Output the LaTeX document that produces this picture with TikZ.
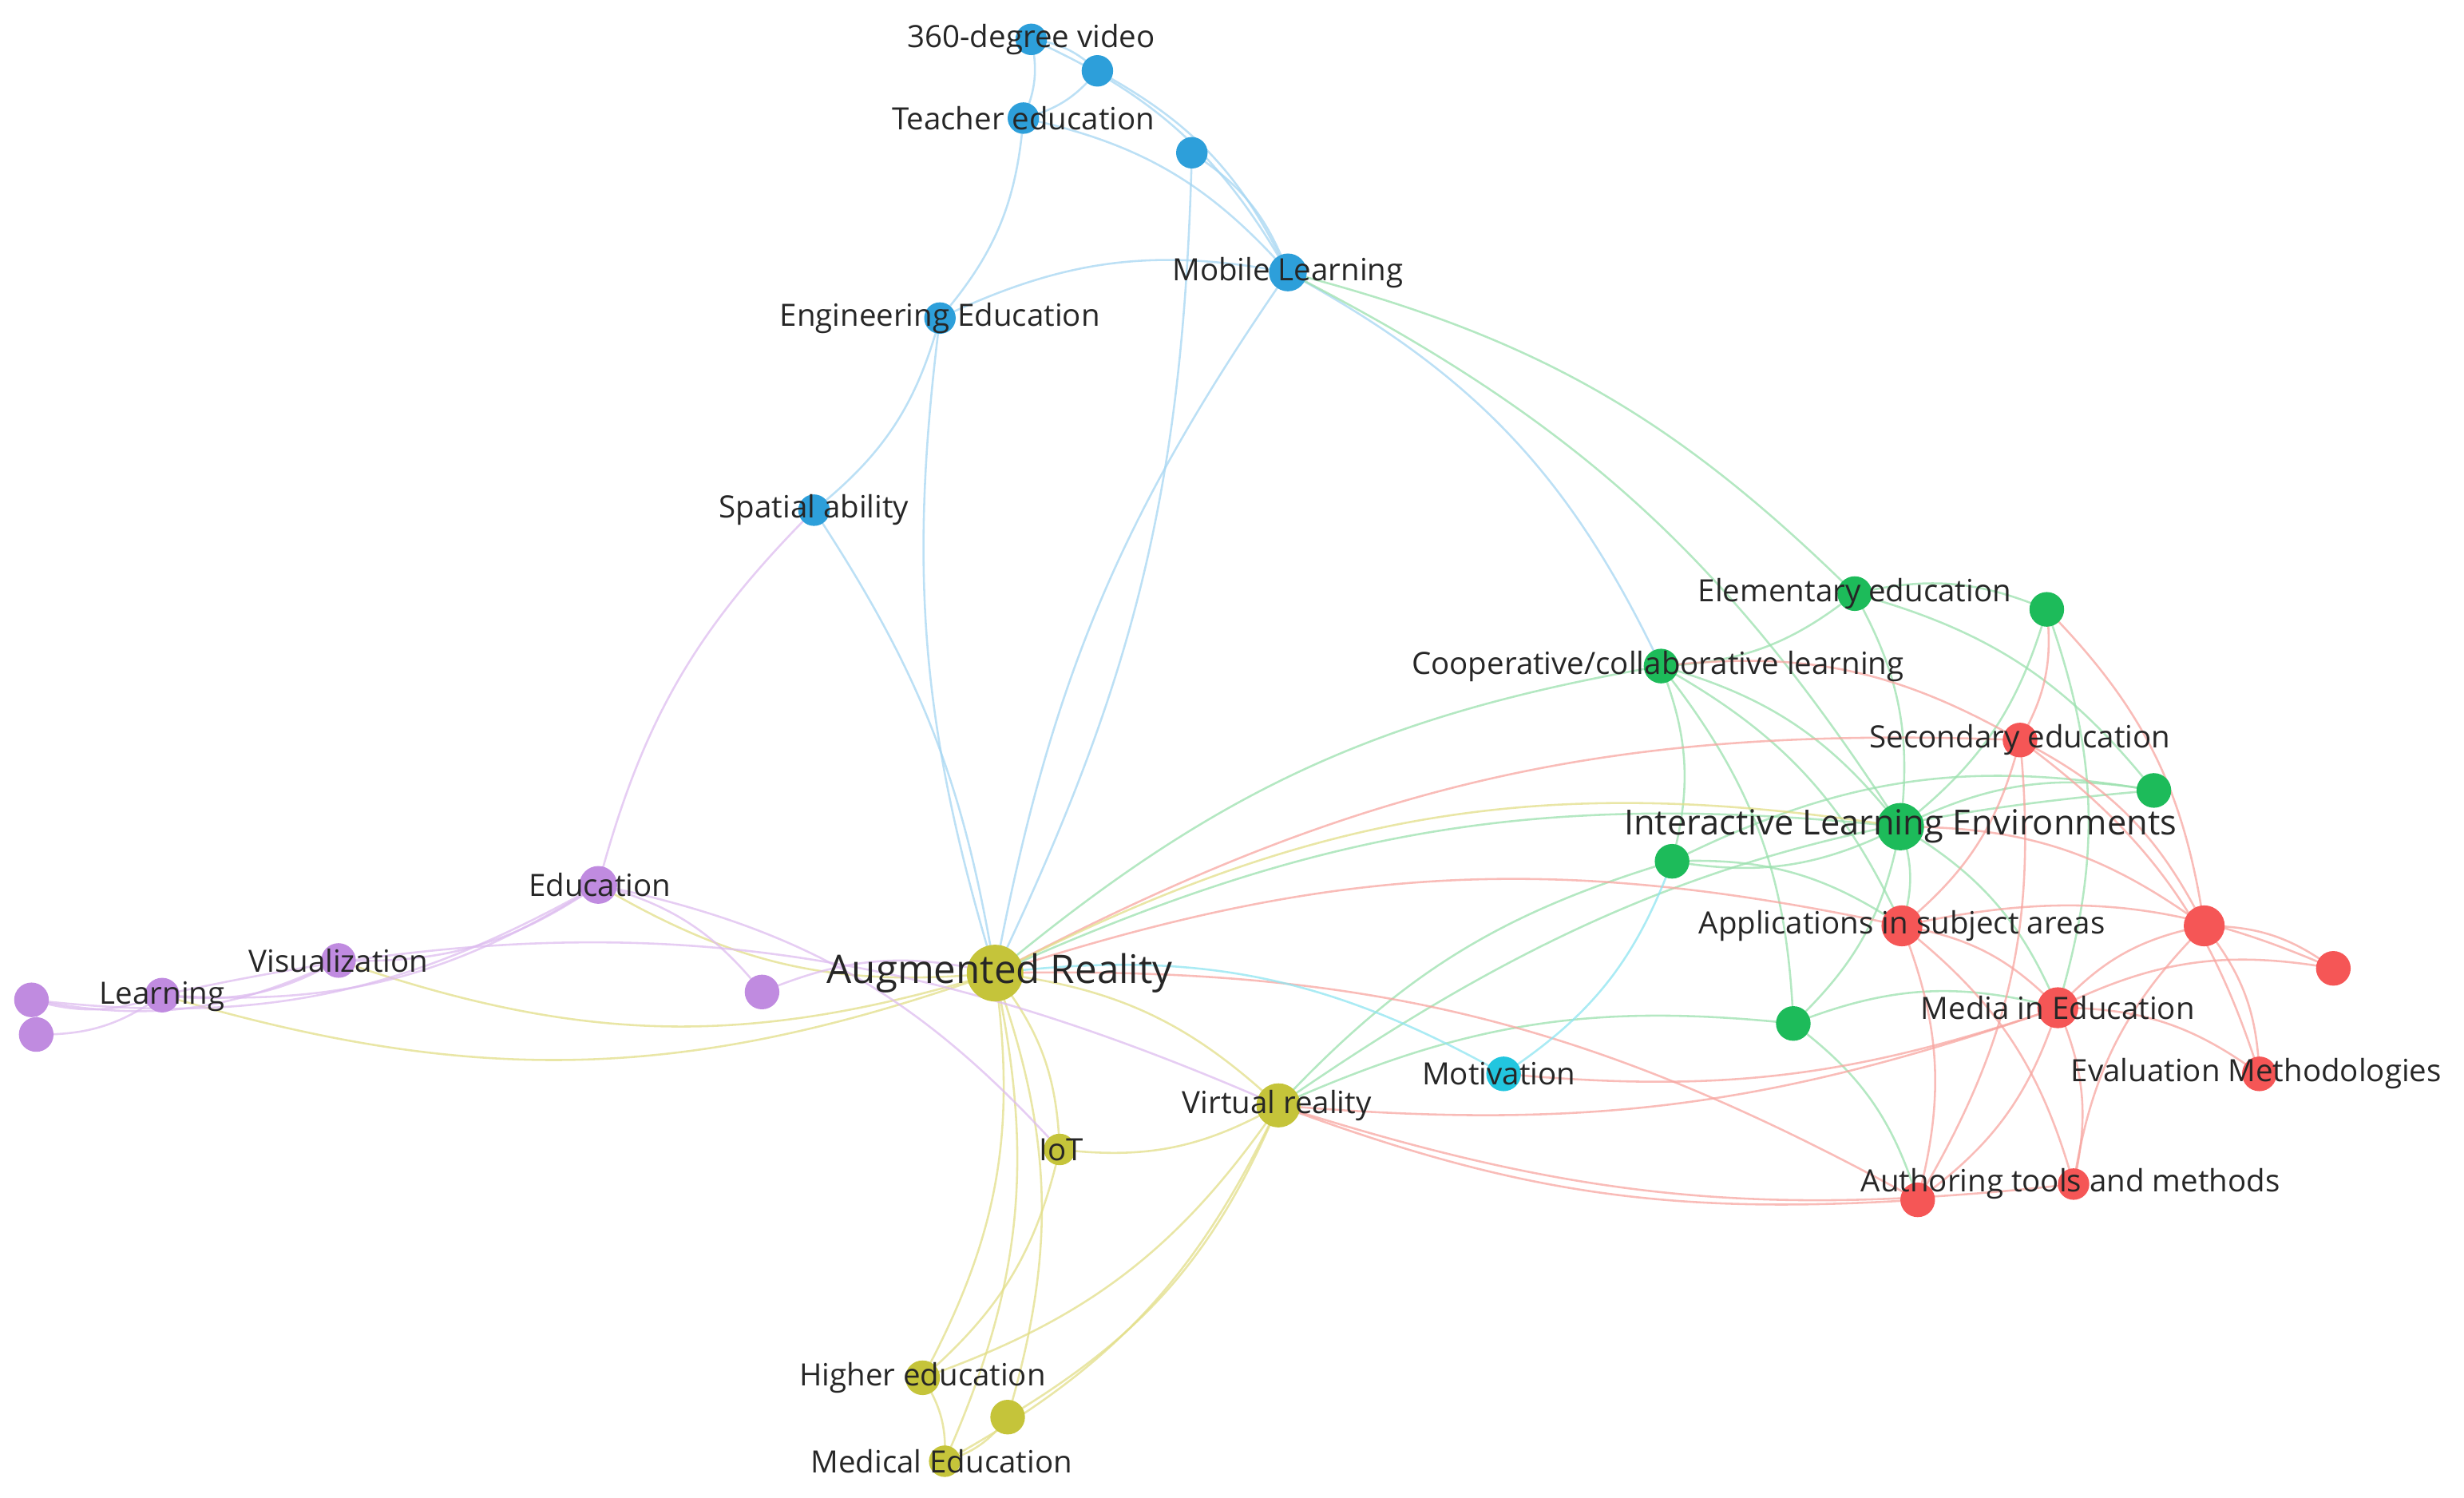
\documentclass[tikz,border=0pt]{standalone}
\usepackage{fontspec}
\setmainfont{Open Sans}
\begin{document}
\begin{tikzpicture}[x=1pt,y=-1pt,
 dot/.style={circle,inner sep=0pt,minimum size=#1},
 lab/.style={font=\fontsize{19.5}{22}\selectfont,text=black!85},
 e/.style={line width=1.3pt,draw opacity=0.75,bend left=18}]
\definecolor{cB}{HTML}{2D9FDA}\definecolor{eB}{HTML}{A6D6F2}
\definecolor{cG}{HTML}{1DBB5A}\definecolor{eG}{HTML}{9BE0AE}
\definecolor{cR}{HTML}{F55656}\definecolor{eR}{HTML}{F7A5A0}
\definecolor{cY}{HTML}{C5C43A}\definecolor{eY}{HTML}{E2DE88}
\definecolor{cP}{HTML}{C08BE0}\definecolor{eP}{HTML}{DDBCEF}
\definecolor{cC}{HTML}{22C6DF}\definecolor{eC}{HTML}{8EE4F0}
\useasboundingbox (0,0) rectangle (1565,951);
\foreach \n/\x/\y in {v360/655/25,b2/697/45,te/650/75,b4/757/97,ml/818/173,ee/597/202,sa/517/324,
 el/1178/377,g2/1300/387,co/1055/423,g4/1368/502,il/1207/525,g6/1062/547,g7/1139/650,
 se/1283/470,ap/1208/588,r3/1400/588,r4/1482/615,me/1307/640,ev/1435/682,au/1218/762,r8/1317/752,
 mo/955/682,ar/632/618,vr/812/702,io/673/730,he/586/875,y5/640/900,md/600/928,
 ed/380/562,vi/215/610,le/103/632,p4/20/635,p5/23/657,p6/484/630}
 \coordinate (\n) at (\x,\y);
\foreach \a/\b in {v360/b2,v360/te,b2/te,b2/ml,v360/ml,te/ml,te/ee,b4/ml,ee/ml,ee/sa,ml/co}
 \draw[e,eB] (\a) to (\b);
\foreach \a/\b in {b4/ar,ar/ee,sa/ar,ar/ml}
 \draw[e,eB,bend left=12] (\a) to (\b);
\draw[e,eP,bend right=15] (sa) to (ed);
\foreach \a/\b in {ml/el,ml/il}
 \draw[e,eG,bend left=15] (\a) to (\b);
\foreach \a/\b in {el/g2,el/co,el/il,g2/il,co/il,co/g6,co/g7,il/g4,il/g6,il/g7,il/ap,il/me,g6/ap,g7/me,g7/au,g2/me,el/g4,g6/g4,co/ap}
 \draw[e,eG] (\a) to (\b);
\foreach \a/\b in {il/ar,co/ar,g6/vr,g7/vr,g4/vr}
 \draw[e,eG,bend right=15] (\a) to (\b);
\foreach \a/\b in {g2/se,g2/r3,co/se,se/ap,se/r3,ap/me,me/r3,me/r4,me/ev,me/au,me/r8,r3/r4,r3/ev,ap/au,ap/r8,r8/r3,se/au,il/r3,ap/r4,se/ev}
 \draw[e,eR] (\a) to (\b);
\foreach \a/\b in {au/vr,me/vr,me/mo,r8/vr}
 \draw[e,eR,bend left=12] (\a) to (\b);
\foreach \a/\b in {ap/ar,se/ar,au/ar}
 \draw[e,eR,bend right=15] (\a) to (\b);
\foreach \a/\b in {ar/mo,g6/mo}
 \draw[e,eC] (\a) to (\b);
\foreach \a/\b in {ar/vr,ar/io,ar/he,ar/md,ar/y5,vr/he,vr/md,vr/y5,vr/io,io/he,he/md,y5/md,ar/ed,ar/vi,ar/le,ar/il}
 \draw[e,eY] (\a) to (\b);
\foreach \a/\b in {ed/vi,ed/le,ed/p4,ed/p6,ed/io,vi/le,le/p4,le/p5,p4/p5,p6/ar,le/vr,vi/p4}
 \draw[e,eP] (\a) to (\b);
\foreach \n/\s in {v360/20,b2/20,te/20,b4/20,ml/24,ee/20,sa/20} \node[dot=\s,fill=cB] (N\n) at (\n) {};
\foreach \n/\s in {el/22,g2/22,co/22,g4/22,il/30,g6/22,g7/22} \node[dot=\s,fill=cG] (N\n) at (\n) {};
\foreach \n/\s in {se/22,ap/26,r3/26,r4/22,me/26,ev/22,au/22,r8/20} \node[dot=\s,fill=cR] (N\n) at (\n) {};
\node[dot=22,fill=cC] (Nmo) at (mo) {};
\foreach \n/\s in {ar/36,vr/28,io/20,he/22,y5/22,md/20} \node[dot=\s,fill=cY] (N\n) at (\n) {};
\foreach \n/\s in {ed/24,vi/22,le/22,p4/22,p5/22,p6/22} \node[dot=\s,fill=cP] (N\n) at (\n) {};
\node[lab] (L1) at (655,25) {360-degree video};
\node[lab] (L2) at (650,75) {Teacher education};
\node[lab] (L3) at (818,173) {Mobile Learning};
\node[lab] (L4) at (597,202) {Engineering Education};
\node[lab] (L5) at (517,324) {Spatial ability};
\node[lab] (L6) at (1178,377) {Elementary education};
\node[lab] (L7) at (1053,423) {Cooperative/collaborative learning};
\node[lab] (L8) at (1283,470) {Secondary education};
\node[lab,font=\fontsize{22}{24}\selectfont] (L9) at (1207,525) {Interactive Learning Environments};
\node[lab] (L10) at (1208,588) {Applications in subject areas};
\node[lab] (L11) at (1307,640) {Media in Education};
\node[lab] (L12) at (1433,682) {Evaluation Methodologies};
\node[lab] (L13) at (1315,752) {Authoring tools and methods};
\node[lab] (L14) at (952,682) {Motivation};
\node[lab,font=\fontsize{25}{28}\selectfont] (L15) at (635,618) {Augmented Reality};
\node[lab] (L16) at (811,702) {Virtual reality};
\node[lab] (L17) at (674,730) {IoT};
\node[lab] (L18) at (586,875) {Higher education};
\node[lab] (L19) at (598,928) {Medical Education};
\node[lab] (L20) at (381,562) {Education};
\node[lab] (L21) at (215,610) {Visualization};
\node[lab] (L22) at (103,633) {Learning};
\end{tikzpicture}
\end{document}
